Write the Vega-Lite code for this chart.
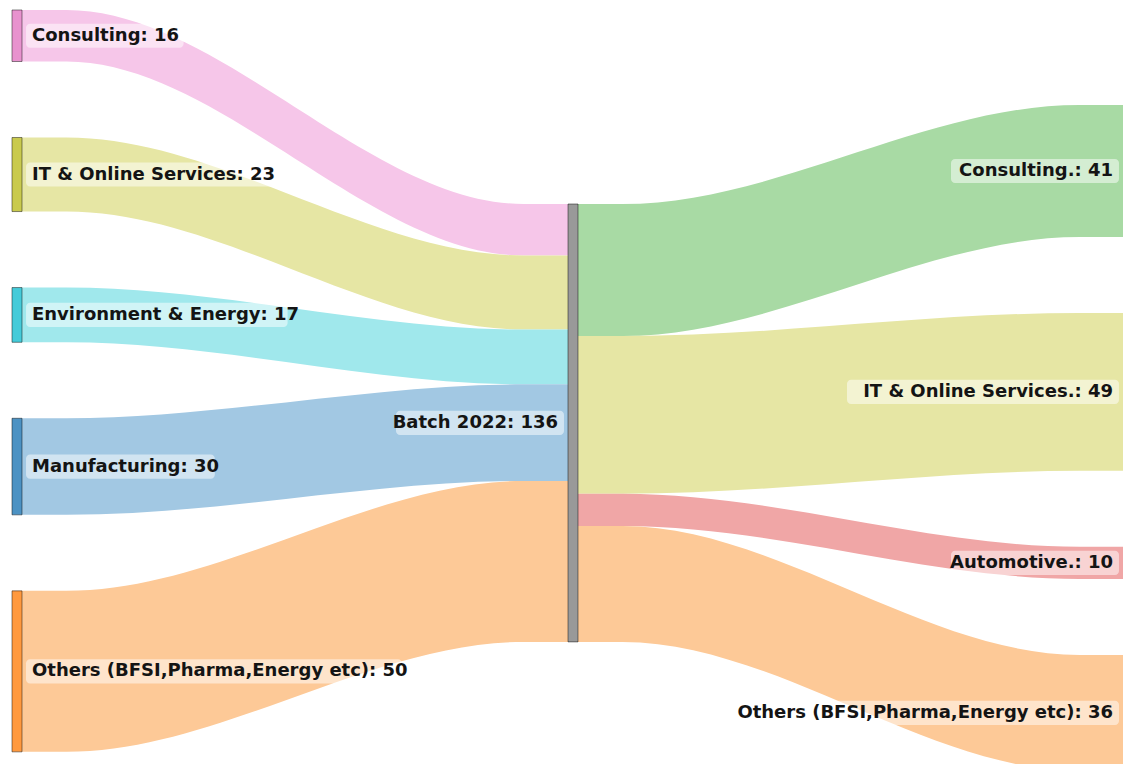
{
  "$schema": "https://vega.github.io/schema/vega-lite/v6.json",
  "width": 1123,
  "height": 764,
  "padding": 0,
  "autosize": {"type": "fit", "contains": "padding"},
  "background": "white",
  "config": {"view": {"stroke": null}},
  "data": {"values": [
    {"source": "Consulting", "target": "Batch 2022", "value": 16, "stage": 0},
    {"source": "IT & Online Services", "target": "Batch 2022", "value": 23, "stage": 0},
    {"source": "Environment & Energy", "target": "Batch 2022", "value": 17, "stage": 0},
    {"source": "Manufacturing", "target": "Batch 2022", "value": 30, "stage": 0},
    {"source": "Others (BFSI,Pharma,Energy etc)", "target": "Batch 2022", "value": 50, "stage": 0},
    {"source": "Batch 2022", "target": "Consulting.", "value": 41, "stage": 1},
    {"source": "Batch 2022", "target": "IT & Online Services.", "value": 49, "stage": 1},
    {"source": "Batch 2022", "target": "Automotive.", "value": 10, "stage": 1},
    {"source": "Batch 2022", "target": "Others (BFSI,Pharma,Energy etc)", "value": 36, "stage": 1}
  ]},
  "transform": [
    {"window": [{"op": "row_number", "as": "rn"}, {"op": "sum", "field": "value", "as": "cum"}], "groupby": ["stage"], "frame": [null, 0]},
    {"calculate": "datum.cum - datum.value", "as": "start"},
    {"calculate": "datum.stage == 0 ? 3.1 + datum.start + (datum.rn - 1) * 23.6 : 63.35 + datum.start", "as": "ys0"},
    {"calculate": "datum.stage == 0 ? 63.35 + datum.start : 32.6 + datum.start + (datum.rn - 1) * 23.6", "as": "yt0"},
    {"calculate": "datum.ys0 + datum.value", "as": "ys1"},
    {"calculate": "datum.yt0 + datum.value", "as": "yt1"},
    {"calculate": "datum.stage + 0.009", "as": "xs"},
    {"calculate": "datum.stage + 0.991", "as": "xt"},
    {"calculate": "datum.stage == 0 ? datum.source : datum.target", "as": "key"},
    {"calculate": "datum.stage + '|' + datum.key", "as": "linkid"}
  ],
  "layer": [
    {
      "transform": [
        {"calculate": "datum.xs", "as": "p0"},
        {"calculate": "datum.xs + 0.08", "as": "p1"},
        {"calculate": "datum.xt - 0.08", "as": "p2"},
        {"calculate": "datum.xt", "as": "p3"},
        {"fold": ["p0", "p1", "p2", "p3"], "as": ["pt", "px"]},
        {"calculate": "datum.pt == 'p0' || datum.pt == 'p1' ? datum.ys0 : datum.yt0", "as": "ytop"},
        {"calculate": "datum.pt == 'p0' || datum.pt == 'p1' ? datum.ys1 : datum.yt1", "as": "ybot"}
      ],
      "mark": {"type": "area", "interpolate": "monotone", "clip": true, "opacity": 1},
      "encoding": {
        "x": {"field": "px", "type": "quantitative", "scale": {"domain": [-0.03058, 1.98921], "nice": false, "zero": false}, "axis": null},
        "y": {"field": "ytop", "type": "quantitative", "stack": null, "scale": {"domain": [0, 237.27], "nice": false, "zero": false, "reverse": true}, "axis": null},
        "y2": {"field": "ybot"},
        "color": {"field": "key", "type": "nominal", "legend": null, "scale": {
          "domain": ["Consulting", "IT & Online Services", "Environment & Energy", "Manufacturing", "Others (BFSI,Pharma,Energy etc)", "Consulting.", "IT & Online Services.", "Automotive."],
          "range": ["#f6c6e9", "#e6e6a4", "#a0e8ec", "#a2c8e3", "#fdc997", "#a8daa4", "#e6e6a4", "#f0a6a6"]}},
        "detail": {"field": "linkid", "type": "nominal"}
      }
    },
    {
      "transform": [
        {"calculate": "datum.stage == 0 ? datum.xs - 0.018 : datum.xt", "as": "nx0"},
        {"calculate": "datum.stage == 0 ? datum.xs : datum.xt + 0.018", "as": "nx1"},
        {"calculate": "datum.stage == 0 ? datum.ys0 : datum.yt0", "as": "ny0"},
        {"calculate": "datum.stage == 0 ? datum.ys1 : datum.yt1", "as": "ny1"}
      ],
      "mark": {"type": "rect", "stroke": "#000000", "strokeWidth": 1, "strokeOpacity": 0.45, "clip": true},
      "encoding": {
        "x": {"field": "nx0", "type": "quantitative", "scale": {"domain": [-0.03058, 1.98921], "nice": false, "zero": false}, "axis": null},
        "x2": {"field": "nx1"},
        "y": {"field": "ny0", "type": "quantitative", "scale": {"domain": [0, 237.27], "nice": false, "zero": false, "reverse": true}, "axis": null},
        "y2": {"field": "ny1"},
        "fill": {"field": "key", "type": "nominal", "legend": null, "scale": {
          "domain": ["Consulting", "IT & Online Services", "Environment & Energy", "Manufacturing", "Others (BFSI,Pharma,Energy etc)", "Consulting.", "IT & Online Services.", "Automotive."],
          "range": ["#e892ce", "#c9ca4e", "#45cbd9", "#4c92c3", "#ff993e", "#56b356", "#c9ca4e", "#de5253"]}}
      }
    },
    {
      "transform": [
        {"filter": "datum.stage == 0"},
        {"aggregate": [{"op": "min", "field": "yt0", "as": "my0"}, {"op": "max", "field": "yt1", "as": "my1"}]}
      ],
      "mark": {"type": "rect", "fill": "#999999", "stroke": "#000000", "strokeWidth": 1, "strokeOpacity": 0.45},
      "encoding": {
        "x": {"datum": 0.991, "type": "quantitative", "scale": {"domain": [-0.03058, 1.98921], "nice": false, "zero": false}, "axis": null},
        "x2": {"datum": 1.009},
        "y": {"field": "my0", "type": "quantitative", "scale": {"domain": [0, 237.27], "nice": false, "zero": false, "reverse": true}, "axis": null},
        "y2": {"field": "my1"}
      }
    },
    {
      "transform": [
        {"filter": "datum.stage == 0"},
        {"calculate": "datum.source + ': ' + datum.value", "as": "label"},
        {"calculate": "(datum.ys0 + datum.ys1) / 2", "as": "ly"},
        {"calculate": "datum.ly - 3.75", "as": "by0"},
        {"calculate": "datum.ly + 3.75", "as": "by1"},
        {"calculate": "datum.xs + 4 / 556", "as": "bx0"},
        {"calculate": "datum.xs + (16 + length(datum.label) * 10.4) / 556", "as": "bx1"}
      ],
      "layer": [
        {
          "mark": {"type": "rect", "fill": "white", "fillOpacity": 0.5, "cornerRadius": 4},
          "encoding": {
            "x": {"field": "bx0", "type": "quantitative", "scale": {"domain": [-0.03058, 1.98921], "nice": false, "zero": false}, "axis": null},
            "x2": {"field": "bx1"},
            "y": {"field": "by0", "type": "quantitative", "scale": {"domain": [0, 237.27], "nice": false, "zero": false, "reverse": true}, "axis": null},
            "y2": {"field": "by1"}
          }
        },
        {
          "mark": {"type": "text", "align": "left", "baseline": "middle", "dx": 10, "font": "DejaVu Sans", "fontSize": 18, "fontWeight": "bold", "fill": "#141414"},
          "encoding": {
            "x": {"field": "xs", "type": "quantitative", "scale": {"domain": [-0.03058, 1.98921], "nice": false, "zero": false}, "axis": null},
            "y": {"field": "ly", "type": "quantitative", "scale": {"domain": [0, 237.27], "nice": false, "zero": false, "reverse": true}, "axis": null},
            "text": {"field": "label"}
          }
        }
      ]
    },
    {
      "transform": [
        {"filter": "datum.stage == 1"},
        {"calculate": "datum.target + ': ' + datum.value", "as": "label"},
        {"calculate": "(datum.yt0 + datum.yt1) / 2", "as": "ly"},
        {"calculate": "datum.ly - 3.75", "as": "by0"},
        {"calculate": "datum.ly + 3.75", "as": "by1"},
        {"calculate": "datum.xt - 5 / 556", "as": "bx1"},
        {"calculate": "datum.xt - (17 + length(datum.label) * 10.4) / 556", "as": "bx0"}
      ],
      "layer": [
        {
          "mark": {"type": "rect", "fill": "white", "fillOpacity": 0.5, "cornerRadius": 4},
          "encoding": {
            "x": {"field": "bx0", "type": "quantitative", "scale": {"domain": [-0.03058, 1.98921], "nice": false, "zero": false}, "axis": null},
            "x2": {"field": "bx1"},
            "y": {"field": "by0", "type": "quantitative", "scale": {"domain": [0, 237.27], "nice": false, "zero": false, "reverse": true}, "axis": null},
            "y2": {"field": "by1"}
          }
        },
        {
          "mark": {"type": "text", "align": "right", "baseline": "middle", "dx": -11, "font": "DejaVu Sans", "fontSize": 18, "fontWeight": "bold", "fill": "#141414"},
          "encoding": {
            "x": {"field": "xt", "type": "quantitative", "scale": {"domain": [-0.03058, 1.98921], "nice": false, "zero": false}, "axis": null},
            "y": {"field": "ly", "type": "quantitative", "scale": {"domain": [0, 237.27], "nice": false, "zero": false, "reverse": true}, "axis": null},
            "text": {"field": "label"}
          }
        }
      ]
    },
    {
      "transform": [
        {"filter": "datum.stage == 0"},
        {"aggregate": [{"op": "min", "field": "yt0", "as": "my0"}, {"op": "max", "field": "yt1", "as": "my1"}, {"op": "sum", "field": "value", "as": "total"}]},
        {"calculate": "'Batch 2022: ' + datum.total", "as": "label"},
        {"calculate": "(datum.my0 + datum.my1) / 2", "as": "ly"},
        {"calculate": "datum.ly - 3.75", "as": "by0"},
        {"calculate": "datum.ly + 3.75", "as": "by1"},
        {"calculate": "0.991 - 4 / 556", "as": "bx1"},
        {"calculate": "0.991 - (16 + length(datum.label) * 10.4) / 556", "as": "bx0"},
        {"calculate": "0.991", "as": "lx"}
      ],
      "layer": [
        {
          "mark": {"type": "rect", "fill": "white", "fillOpacity": 0.5, "cornerRadius": 4},
          "encoding": {
            "x": {"field": "bx0", "type": "quantitative", "scale": {"domain": [-0.03058, 1.98921], "nice": false, "zero": false}, "axis": null},
            "x2": {"field": "bx1"},
            "y": {"field": "by0", "type": "quantitative", "scale": {"domain": [0, 237.27], "nice": false, "zero": false, "reverse": true}, "axis": null},
            "y2": {"field": "by1"}
          }
        },
        {
          "mark": {"type": "text", "align": "right", "baseline": "middle", "dx": -10, "font": "DejaVu Sans", "fontSize": 18, "fontWeight": "bold", "fill": "#141414"},
          "encoding": {
            "x": {"field": "lx", "type": "quantitative", "scale": {"domain": [-0.03058, 1.98921], "nice": false, "zero": false}, "axis": null},
            "y": {"field": "ly", "type": "quantitative", "scale": {"domain": [0, 237.27], "nice": false, "zero": false, "reverse": true}, "axis": null},
            "text": {"field": "label"}
          }
        }
      ]
    }
  ]
}
